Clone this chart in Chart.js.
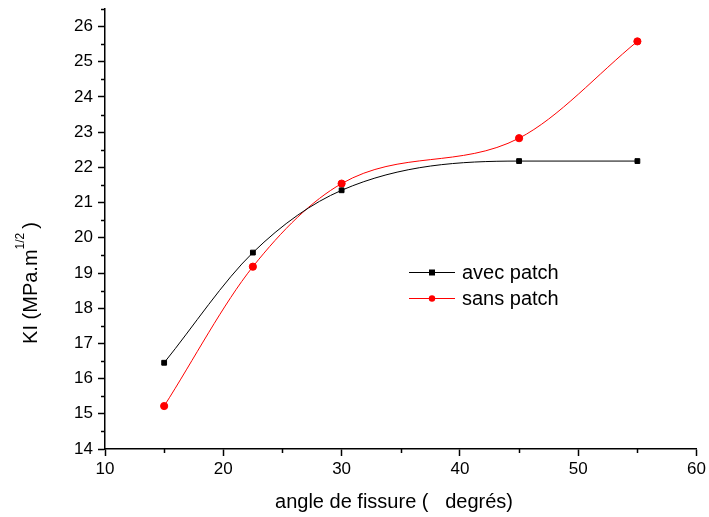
<!DOCTYPE html>
<html>
<head>
<meta charset="utf-8">
<script src="https://cdn.jsdelivr.net/npm/chart.js@4.4.1/dist/chart.umd.min.js"></script>
<style>
  html, body { margin: 0; padding: 0; background: #fff; }
  #wrap { width: 709px; height: 517px; position: relative; }
</style>
</head>
<body>
<div id="wrap"><canvas id="kiCanvas"></canvas></div>
<script>
/* ── data ── */
const angles     = [15, 22.5, 30, 45, 55];
const avecPatch  = [16.45, 19.58, 21.35, 22.18, 22.18];
const sansPatch  = [15.22, 19.18, 21.54, 22.83, 25.58];
const seriesNames = ['avec patch', 'sans patch'];
const xTickValues = [10, 20, 30, 40, 50, 60];
const yTickValues = [14, 15, 16, 17, 18, 19, 20, 21, 22, 23, 24, 25, 26];
const xTitle = 'angle de fissure (   degrés)';
const yTitleMain = 'KI (MPa.m';
const yTitleSup  = '1/2';

const FONT = '"Liberation Sans", Arial, sans-serif';

/* minor ticks, axis titles and inside legend */
const extras = {
    id: 'extras',
    afterDraw(chart) {
        const ctx = chart.ctx;
        const x = chart.scales.x, y = chart.scales.y;
        ctx.save();
        ctx.strokeStyle = '#000';
        ctx.lineWidth = 1.5;
        // minor ticks, halfway between majors
        yTickValues.forEach(v => {
            const py = Math.round(y.getPixelForValue(v + 0.5)) + 0.5;
            ctx.beginPath(); ctx.moveTo(x.left - 4, py); ctx.lineTo(x.left, py); ctx.stroke();
        });
        xTickValues.slice(0, -1).forEach(v => {
            const px = Math.round(x.getPixelForValue(v + 5)) + 0.5;
            ctx.beginPath(); ctx.moveTo(px, y.bottom); ctx.lineTo(px, y.bottom + 4); ctx.stroke();
        });

        // x title
        ctx.fillStyle = '#000';
        ctx.font = '20px ' + FONT;
        ctx.textAlign = 'center';
        ctx.textBaseline = 'middle';
        ctx.fillText(xTitle, 394, 502);

        // y title with superscript
        ctx.translate(31, 283);
        ctx.rotate(-Math.PI / 2);
        ctx.font = '20px ' + FONT;
        const wMain = ctx.measureText(yTitleMain).width;
        ctx.font = '12px ' + FONT;
        const wSup = ctx.measureText(yTitleSup).width;
        ctx.font = '20px ' + FONT;
        const wEnd = ctx.measureText(')').width;
        const total = wMain + wSup + 4 + wEnd;
        let cx = -total / 2;
        ctx.textAlign = 'left';
        ctx.fillText(yTitleMain, cx, 0);
        cx += wMain;
        ctx.font = '12px ' + FONT;
        ctx.fillText(yTitleSup, cx, -10);
        cx += wSup + 4;
        ctx.font = '20px ' + FONT;
        ctx.fillText(')', cx, 0);
        ctx.restore();

        // legend inside plot
        ctx.save();
        const lx = 409, ly = [272, 298];
        chart.data.datasets.forEach((ds, i) => {
            ctx.strokeStyle = ds.borderColor;
            ctx.lineWidth = 1;
            ctx.beginPath(); ctx.moveTo(lx, ly[i] + 0.5); ctx.lineTo(lx + 46, ly[i] + 0.5); ctx.stroke();
            ctx.fillStyle = ds.pointBackgroundColor;
            if (ds.pointStyle === 'rect') {
                ctx.fillRect(lx + 20, ly[i] - 2.5, 6, 6);
            } else {
                ctx.beginPath(); ctx.arc(lx + 23, ly[i] + 0.5, 3.2, 0, Math.PI * 2); ctx.fill();
            }
            ctx.fillStyle = '#000';
            ctx.font = '20px ' + FONT;
            ctx.textBaseline = 'middle';
            ctx.fillText(ds.label, lx + 53, ly[i] + 1);
        });
        ctx.restore();
    }
};

const datasets = [
    { label: seriesNames[0], data: avecPatch, color: '#000000', style: 'rect', r: 3.4 },
    { label: seriesNames[1], data: sansPatch, color: '#ff0000', style: 'circle', r: 3.6 },
].map(s => ({
    label: s.label,
    data: angles.map((a, i) => ({ x: a, y: s.data[i] })),
    borderColor: s.color,
    backgroundColor: s.color,
    pointBackgroundColor: s.color,
    pointBorderColor: s.color,
    pointStyle: s.style,
    pointRadius: s.r,
    borderWidth: 1,
    cubicInterpolationMode: 'monotone',
    fill: false,
}));

new Chart(document.getElementById('kiCanvas').getContext('2d'), {
    type: 'line',
    data: { datasets },
    plugins: [extras],
    options: {
        responsive: true,
        maintainAspectRatio: false,
        animation: false,
        layout: { padding: { left: 0, right: 12, top: 9, bottom: 0 } },
        scales: {
            x: {
                type: 'linear',
                min: 10, max: 60,
                afterFit: s => { s.height = 68; },
                afterBuildTicks: s => { s.ticks = xTickValues.map(v => ({ value: v })); },
                border: { display: true, color: '#000', width: 1.5 },
                grid: { drawOnChartArea: false, tickLength: 7, tickColor: '#000', tickWidth: 1.5 },
                ticks: { autoSkip: false, color: '#000', padding: 3, font: { family: FONT, size: 17 } },
            },
            y: {
                min: 14, max: 26.5,
                afterFit: s => { s.width = 105; s.paddingTop = 0; s.paddingBottom = 0; },
                afterBuildTicks: s => { s.ticks = yTickValues.map(v => ({ value: v })); },
                border: { display: true, color: '#000', width: 1.5 },
                grid: { drawOnChartArea: false, tickLength: 7, tickColor: '#000', tickWidth: 1.5 },
                ticks: { autoSkip: false, color: '#000', padding: 5, font: { family: FONT, size: 17 } },
            },
        },
        plugins: {
            legend:  { display: false },
            tooltip: { enabled: false },
        },
    },
});
</script>
</body>
</html>
